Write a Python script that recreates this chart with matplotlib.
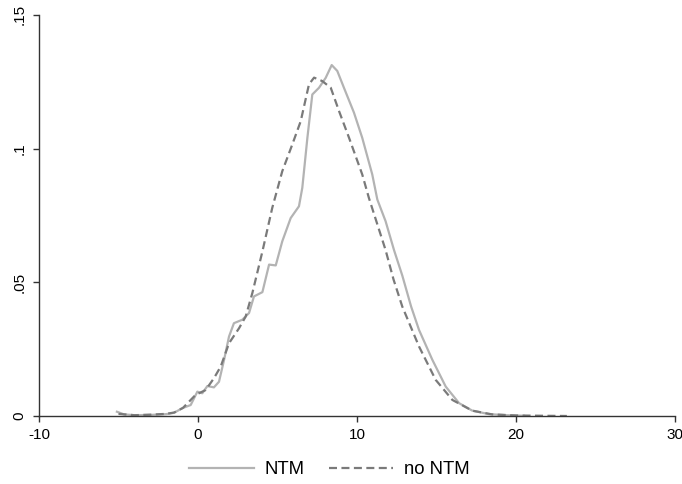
import numpy as np
import matplotlib
matplotlib.use("Agg")
import matplotlib.pyplot as plt

plt.rcParams["font.family"] = ["Liberation Sans", "DejaVu Sans"]
plt.rcParams["axes.unicode_minus"] = False

# kernel density, NTM
ntm_x = [-5.1, -4.65, -4.0, -3.0, -2.0, -1.5, -1.0, -0.46, -0.04, 0.27, 0.59, 1.0,
         1.32, 1.64, 1.95, 2.26, 2.79, 3.21, 3.52, 4.05, 4.47, 4.89, 5.3, 5.83,
         6.35, 6.56, 6.88, 7.19, 7.61, 8.03, 8.41, 8.76, 9.18, 9.81, 10.33, 10.96,
         11.28, 11.8, 12.33, 12.85, 13.4, 13.9, 14.74, 15.58, 16.42, 17.25, 18.3,
         19.4, 20.5]
ntm_y = [0.0016, 0.0006, 0.0003, 0.0004, 0.0007, 0.0012, 0.0029, 0.0041, 0.0091,
         0.0085, 0.0112, 0.0107, 0.0128, 0.021, 0.0297, 0.0347, 0.036, 0.0385,
         0.0447, 0.0463, 0.0566, 0.0563, 0.0653, 0.074, 0.0784, 0.0853, 0.104,
         0.1202, 0.1227, 0.1264, 0.1312, 0.129, 0.1227, 0.1134, 0.104, 0.0903,
         0.0809, 0.0728, 0.062, 0.0525, 0.041, 0.0322, 0.021, 0.011, 0.0048,
         0.002, 0.0007, 0.0003, 0.0001]

# kernel density, no NTM
no_x = [-5.0, -4.0, -3.0, -2.0, -1.5, -0.95, -0.15, 0.48, 1.0, 1.43, 1.95, 2.58,
        3.0, 3.42, 4.05, 4.67, 5.3, 5.93, 6.46, 6.98, 7.3, 7.82, 8.35, 8.87, 9.5,
        10.33, 10.75, 11.18, 11.8, 12.3, 12.85, 13.9, 14.95, 16.0, 17.25, 18.5,
        20.0, 21.5, 23.2]
no_y = [0.0008, 0.0003, 0.0005, 0.0008, 0.0013, 0.003, 0.0079, 0.0097, 0.0141,
        0.0185, 0.0272, 0.0328, 0.0372, 0.046, 0.0615, 0.0778, 0.0915, 0.1015,
        0.1102, 0.124, 0.1265, 0.1252, 0.1227, 0.114, 0.104, 0.0903, 0.0815,
        0.0735, 0.062, 0.051, 0.0409, 0.026, 0.0135, 0.006, 0.002, 0.0006,
        0.0002, 0.0001, 0.0]

x_ticks = [-10, 0, 10, 20, 30]
y_ticks = [0, 0.05, 0.1, 0.15]
y_labels = ["0", ".05", ".1", ".15"]

fig = plt.figure(figsize=(6.82, 4.84), dpi=100)
ax = fig.add_axes([0.0572, 0.1405, 0.9325, 0.829])

ax.plot(ntm_x, ntm_y, color="#b3b3b3", lw=1.6, label="NTM")
ax.plot(no_x, no_y, color="#7a7a7a", lw=1.6, dashes=(3.6, 2.0), label="no NTM")

ax.set_xlim(-10, 30)
ax.set_ylim(0, 0.15)
ax.set_xticks(x_ticks)
ax.set_yticks(y_ticks)
ax.set_yticklabels(y_labels, rotation=90, va="center")
ax.tick_params(direction="out", length=4, width=1, labelsize=11, pad=5, color="#333333")
ax.spines["top"].set_visible(False)
ax.spines["right"].set_visible(False)
for s in ["left", "bottom"]:
    ax.spines[s].set_color("#333333")
    ax.spines[s].set_linewidth(1)

fig.legend(loc="center", bbox_to_anchor=(0.483, 0.029), ncol=2, frameon=False,
           fontsize=13.3, handlelength=3.5, columnspacing=1.3, handletextpad=0.6)

fig.savefig("out.png", dpi=100)
